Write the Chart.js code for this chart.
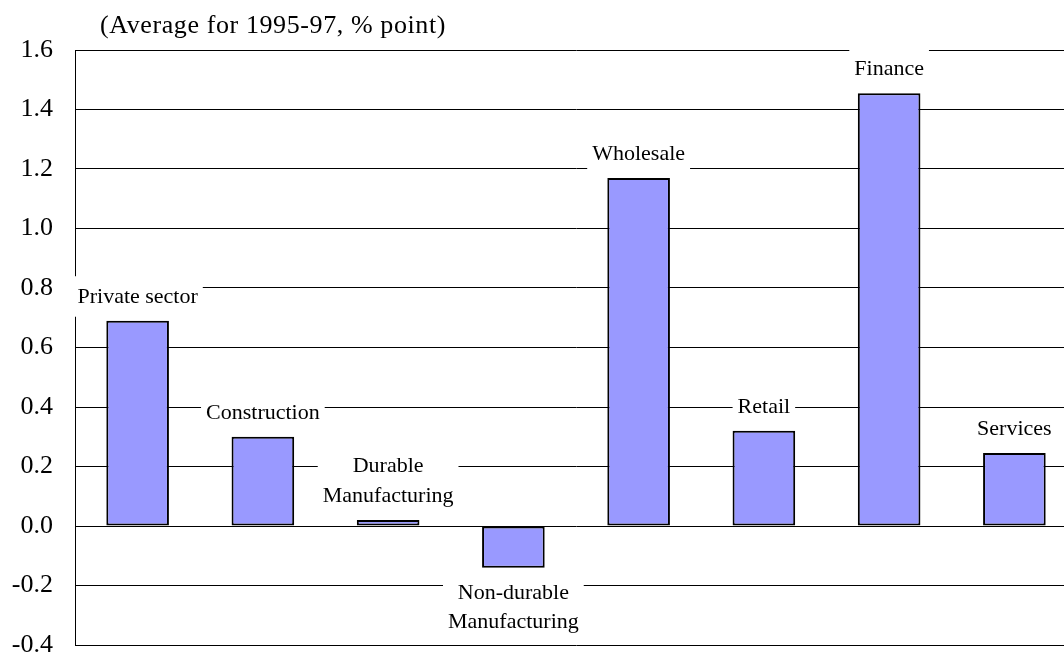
<!DOCTYPE html>
<html>
<head>
<meta charset="utf-8">
<script src="https://cdn.jsdelivr.net/npm/chart.js@4/dist/chart.umd.min.js"></script>
<style>
  html, body { margin: 0; padding: 0; background: #fff; overflow: hidden; }
  #wrap { width: 1080px; height: 658px; }
</style>
</head>
<body>
<div id="wrap"><canvas id="chart" width="1080" height="658"></canvas></div>
<script>
// data
const categories = [
    ['Private sector'],
    ['Construction'],
    ['Durable', 'Manufacturing'],
    ['Non-durable', 'Manufacturing'],
    ['Wholesale'],
    ['Retail'],
    ['Finance'],
    ['Services']
];
const values = [0.69, 0.30, 0.02, -0.14, 1.17, 0.32, 1.455, 0.245];
const yMin = -0.4;
const yMax = 1.6;
const yStep = 0.2;
const titleText = '(Average for 1995-97, % point)';

const serif = '"Liberation Serif", "Times New Roman", serif';

// category names sit over (or under) each bar on a white patch
const barLabels = {
    id: 'barLabels',
    beforeDatasetsDraw(chart) {
        const ctx = chart.ctx;
        const meta = chart.getDatasetMeta(0);
        ctx.save();
        ctx.font = '22px ' + serif;
        ctx.textAlign = 'center';
        ctx.textBaseline = 'alphabetic';
        meta.data.forEach((bar, i) => {
            const lines = categories[i];
            const v = values[i];
            let baselines = [];
            if (v >= 0) {
                let last = bar.y - 18;
                for (let k = 0; k < lines.length; k++) {
                    baselines.push(last - (lines.length - 1 - k) * 30);
                }
            } else {
                let first = bar.y + 31;
                for (let k = 0; k < lines.length; k++) {
                    baselines.push(first + k * 29);
                }
            }
            let w = Math.max(...lines.map(t => ctx.measureText(t).width));
            let top = baselines[0] - 26.5;
            let bottom = baselines[baselines.length - 1] + 14;
            ctx.fillStyle = '#fff';
            ctx.fillRect(bar.x - w / 2 - 5, top, w + 10, bottom - top);
            ctx.fillStyle = '#000';
            lines.forEach((t, k) => ctx.fillText(t, bar.x, baselines[k]));
        });
        ctx.restore();
    },
    afterDraw(chart) {
        const ctx = chart.ctx;
        ctx.save();
        ctx.font = '26px ' + serif;
        ctx.letterSpacing = '0.6px';
        ctx.fillStyle = '#000';
        ctx.textAlign = 'left';
        ctx.textBaseline = 'alphabetic';
        ctx.fillText(titleText, 100, 33);
        ctx.restore();
    }
};

const ctx = document.getElementById('chart').getContext('2d');
new Chart(ctx, {
    type: 'bar',
    data: {
        labels: categories,
        datasets: [{
            data: values,
            backgroundColor: '#9999ff',
            borderColor: '#000',
            borderWidth: 2,
            borderSkipped: false,
            categoryPercentage: 1.0,
            barPercentage: 0.5
        }]
    },
    options: {
        responsive: false,
        animation: false,
        layout: { padding: { top: 50, bottom: 13, left: 0, right: 3 } },
        plugins: {
            legend: { display: false },
            tooltip: { enabled: false }
        },
        scales: {
            x: { display: false },
            y: {
                min: yMin,
                max: yMax,
                afterFit(scale) {
                    scale.width = 75;
                    scale.paddingTop = 0;
                    scale.paddingBottom = 0;
                },
                ticks: {
                    stepSize: yStep,
                    padding: 22,
                    color: '#000',
                    font: { family: serif, size: 26 },
                    callback: v => (Math.round(v * 10) / 10).toFixed(1)
                },
                grid: { color: '#000', lineWidth: 1, drawTicks: false },
                border: { color: '#000', width: 1 }
            }
        }
    },
    plugins: [barLabels]
});
</script>
</body>
</html>
